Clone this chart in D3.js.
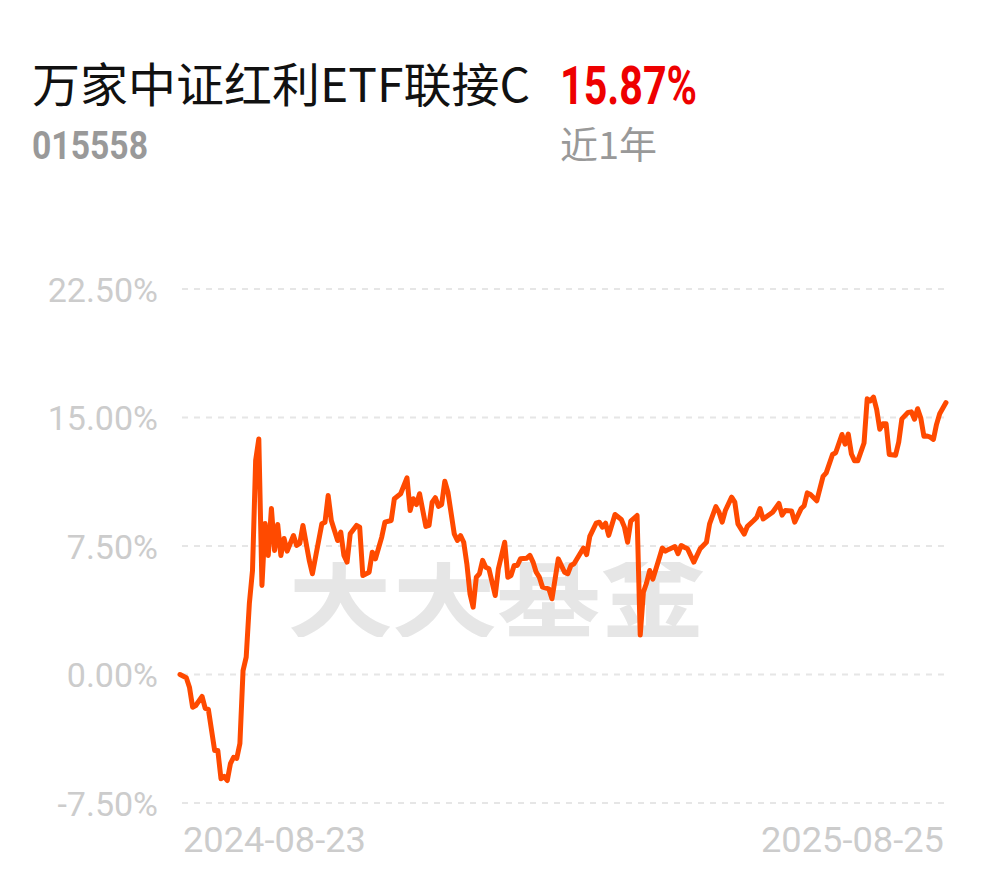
<!DOCTYPE html>
<html>
<head>
<meta charset="utf-8">
<script src="https://cdn.jsdelivr.net/npm/d3@7"></script>
<style>
  html, body { margin: 0; padding: 0; background: #ffffff; }
  svg { display: block; }
</style>
</head>
<body>
<div id="chart"></div>
<script>
// ---- data ----
const fundName = "万家中证红利ETF联接C";
const fundCode = "015558";
const periodReturn = "15.87%";
const periodLabel = "近1年";
const watermark = "天天基金";

const yTicks = [-7.5, 0, 7.5, 15, 22.5];
const xTickLabels = ["2024-08-23", "2025-08-25"];
const totalTradeDays = 243;

// trading-day index (0 = 2024-08-23) and cumulative return (%)
const tradeDay = [
  0,2,3,4,5,7,8,9,11,12,13,14,15,16,17,18,19,20,21,22,23,24,25,26,27,28,29,30,31,32,33,34,
  36,37,38,39,41,42,43,45,46,47,48,50,51,52,53,54,56,57,58,60,61,62,64,65,67,68,70,72,73,74,
  75,76,78,79,80,81,82,83,84,85,87,88,89,90,91,92,93,94,95,96,97,98,100,101,103,104,105,106,
  107,108,110,111,112,113,114,115,117,118,120,122,123,124,125,128,129,130,132,133,134,135,136,
  138,140,141,142,143,145,146,147,148,149,150,152,153,154,155,157,158,159,160,161,163,165,167,
  168,170,171,172,173,175,176,177,179,180,182,183,184,185,187,188,190,191,192,194,195,197,198,
  199,200,202,204,205,207,208,210,211,212,213,214,215,217,218,219,220,221,222,223,224,225,227,
  228,229,231,232,233,234,235,236,237,238,239,240,241,243
];
const pctReturn = [
  0.00,-0.19,-0.74,-1.91,-1.81,-1.28,-1.98,-2.04,-4.44,-4.44,-6.09,-5.95,-6.19,-5.20,-4.83,-4.90,-4.03,0.23,1.01,4.14,6.07,12.50,13.75,5.20,8.82,6.95,9.69,7.24,8.76,6.95,7.94,7.20,
  8.11,7.53,7.65,8.70,6.66,5.88,6.85,8.80,8.89,10.45,8.99,7.82,8.31,6.95,6.56,8.21,8.70,8.60,5.78,5.97,7.14,6.75,8.02,8.89,8.99,10.26,10.55,11.48,9.57,10.26,
  9.92,10.55,8.64,8.70,10.06,10.32,9.81,9.92,11.28,10.64,8.21,7.82,8.11,7.72,6.46,4.71,3.93,5.68,5.88,6.66,6.26,6.17,4.61,6.17,7.72,5.68,5.78,6.36,
  6.36,6.75,6.79,6.95,6.56,5.97,5.68,5.10,5.00,4.42,6.75,5.97,5.88,6.36,6.46,7.38,7.00,8.06,8.83,8.89,8.60,8.83,8.12,
  9.34,9.05,8.60,7.72,8.95,9.28,2.30,4.80,5.34,6.07,5.57,6.77,7.38,7.20,7.30,7.47,7.05,7.53,7.43,7.34,6.56,7.34,7.72,
  8.79,9.80,9.47,8.89,9.57,10.35,10.06,8.79,8.19,8.65,8.99,9.18,9.69,9.08,9.34,9.47,9.98,9.30,9.57,9.55,8.89,9.67,9.85,
  10.60,10.51,10.14,11.56,11.77,12.84,12.94,14.01,13.44,14.03,12.87,12.47,12.47,13.51,16.09,15.97,16.19,15.47,14.31,14.64,14.64,12.84,12.80,
  13.56,14.92,15.30,15.33,14.90,15.51,14.97,13.90,13.92,13.85,13.72,14.60,15.22,15.87
];

// ---- chart ----
const W = 990, H = 878;
const svg = d3.select("#chart").append("svg").attr("width", W).attr("height", H);

const x = d3.scaleLinear().domain([0, totalTradeDays]).range([180, 946]);
const y = d3.scaleLinear().domain([-7.5, 22.5]).range([803, 289]);

const points = tradeDay.map((d, i) => ({ t: d, v: pctReturn[i] }));

// header
svg.append("text")
  .attr("x", 32).attr("y", 102)
  .attr("font-family", "'Noto Sans CJK SC', sans-serif")
  .attr("font-size", 47).attr("fill", "#111")
  .attr("textLength", 498).attr("lengthAdjust", "spacingAndGlyphs")
  .text(fundName);

svg.append("text")
  .attr("x", 560).attr("y", 104)
  .attr("font-family", "Roboto, sans-serif").attr("font-weight", 700)
  .attr("font-size", 54).attr("fill", "#ee0000")
  .attr("textLength", 137).attr("lengthAdjust", "spacingAndGlyphs")
  .text(periodReturn);

svg.append("text")
  .attr("x", 32).attr("y", 159)
  .attr("font-family", "Roboto, sans-serif").attr("font-weight", 700)
  .attr("font-size", 39).attr("fill", "#999")
  .attr("textLength", 116).attr("lengthAdjust", "spacingAndGlyphs")
  .text(fundCode);

svg.append("text")
  .attr("x", 560).attr("y", 159)
  .attr("font-family", "'Noto Sans CJK SC', sans-serif")
  .attr("font-size", 37).attr("fill", "#999")
  .attr("textLength", 97).attr("lengthAdjust", "spacingAndGlyphs")
  .text(periodLabel);

// watermark
svg.append("clipPath").attr("id", "wmclip")
  .append("rect").attr("x", 0).attr("y", 562).attr("width", W).attr("height", 75);
svg.append("text")
  .attr("x", 288).attr("y", 630)
  .attr("clip-path", "url(#wmclip)")
  .attr("font-family", "'Noto Sans CJK SC', sans-serif")
  .attr("font-weight", 700)
  .attr("font-size", 104).attr("fill", "#e6e6e6")
  .attr("textLength", 417).attr("lengthAdjust", "spacingAndGlyphs")
  .text(watermark);

// grid
const grid = svg.append("g");
grid.selectAll("line").data(yTicks).join("line")
  .attr("x1", 182).attr("x2", 947)
  .attr("y1", d => y(d)).attr("y2", d => y(d))
  .attr("stroke", "#e6e6e6").attr("stroke-width", 2)
  .attr("stroke-dasharray", "6,6");

// y axis labels
const yAxis = d3.axisLeft(y).tickValues(yTicks)
  .tickFormat(d => d.toFixed(2) + "%").tickSize(0).tickPadding(0);
const gy = svg.append("g").attr("transform", "translate(158,0)").call(yAxis);
gy.select(".domain").remove();
gy.selectAll("text")
  .attr("font-family", "Roboto, sans-serif")
  .attr("font-size", 34).attr("fill", "#cccccc").attr("dy", "0.36em");

// x axis labels
const gx = svg.append("g");
gx.selectAll("text").data(xTickLabels).join("text")
  .attr("x", (d, i) => i === 0 ? x(0) + 3 : x(totalTradeDays) - 2)
  .attr("y", 852)
  .attr("text-anchor", (d, i) => i === 0 ? "start" : "end")
  .attr("font-family", "Roboto, sans-serif")
  .attr("font-size", 35).attr("fill", "#cccccc")
  .attr("textLength", 183).attr("lengthAdjust", "spacingAndGlyphs")
  .text(d => d);

// line
const line = d3.line().x(d => x(d.t)).y(d => y(d.v));
svg.append("path").datum(points)
  .attr("d", line)
  .attr("fill", "none")
  .attr("stroke", "#ff4a00")
  .attr("stroke-width", 5)
  .attr("stroke-linejoin", "round")
  .attr("stroke-linecap", "round");
</script>
</body>
</html>
